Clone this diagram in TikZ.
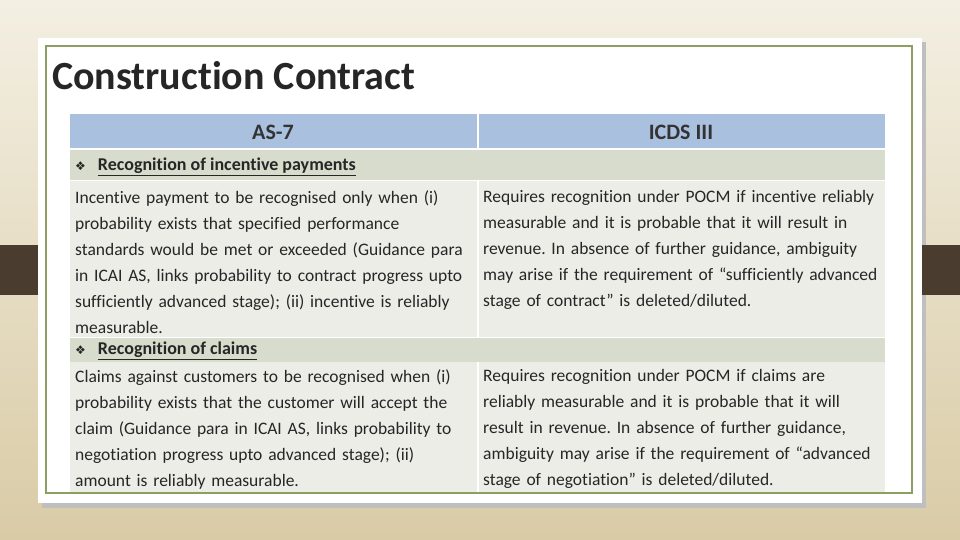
\documentclass[tikz,border=0pt]{standalone}
\usepackage{fontspec}
\setmainfont[Ligatures=NoCommon]{Carlito}
\newfontfamily\symfont{DejaVu Sans}
\frenchspacing
\definecolor{bgtop}{HTML}{F3EFE2}
\definecolor{bgbot}{HTML}{D9CBA6}
\definecolor{hdr}{HTML}{A9C1DF}
\definecolor{sec}{HTML}{D8DCCC}
\definecolor{cellc}{HTML}{ECEDE6}
\definecolor{brd}{HTML}{8E9E62}
\definecolor{brn}{HTML}{4A3C2E}
\tikzset{
  body/.style={anchor=north west, inner sep=0pt, align=left, text width=#1, font=\fontsize{17.5}{26}\selectfont, text=black!85},
  sechead/.style={anchor=west, inner sep=0pt, font=\fontsize{18}{20}\selectfont, text=black!85},
  colhead/.style={font=\bfseries\fontsize{22}{24}\selectfont, text=black!80}
}
\newcommand{\bul}{{\symfont\fontsize{12}{12}\selectfont ❖}\hspace{12pt}}
\begin{document}
\begin{tikzpicture}[x=1pt,y=-1pt]
\useasboundingbox (0,0) rectangle (960,540);
\shade[top color=bgtop, bottom color=bgbot] (0,0) rectangle (960,540);
\fill[black!25] (42,42) rectangle (926,508);
\fill[brn] (0,245) rectangle (38,295);
\fill[brn] (902,245) rectangle (960,295);
\fill[white] (38,38) rectangle (922,503);
\draw[brd, line width=1.2pt] (46,46) rectangle (912,493);
\node[anchor=west, inner sep=0pt, font=\bfseries\fontsize{40}{44}\selectfont, text=black!85] (title) at (52,76) {Construction Contract};
% table
\fill[hdr] (70,114) rectangle (477,148);
\fill[hdr] (479,114) rectangle (885,148);
\fill[sec] (70,150) rectangle (885,180);
\fill[cellc] (70,181) rectangle (477,337);
\fill[cellc] (479,181) rectangle (885,337);
\fill[sec] (70,338) rectangle (885,362);
\fill[cellc] (70,362) rectangle (477,492);
\fill[cellc] (479,362) rectangle (885,492);
\node[colhead] (h1) at (273,132) {AS-7};
\node[colhead] (h2) at (681,132) {ICDS III};
\node[sechead] (s1) at (75,167) {\bul\underline{\textbf{Recognition of incentive payments}}};
\node[sechead] (s2) at (75,351) {\bul\underline{\textbf{Recognition of claims}}};
\node[body=405pt] (c1) at (75,190) {Incentive payment to be recognised only when (i)\\probability exists that specified performance\\standards would be met or exceeded (Guidance para\\in ICAI AS, links probability to contract progress upto\\sufficiently advanced stage); (ii) incentive is reliably\\measurable.};
\node[body=400pt] (c2) at (483,190) {Requires recognition under POCM if incentive reliably\\measurable and it is probable that it will result in\\revenue. In absence of further guidance, ambiguity\\may arise if the requirement of “sufficiently advanced\\stage of contract” is deleted/diluted.};
\node[body=405pt] (c3) at (75,369) {Claims against customers to be recognised when (i)\\probability exists that the customer will accept the\\claim (Guidance para in ICAI AS, links probability to\\negotiation progress upto advanced stage); (ii)\\amount is reliably measurable.};
\node[body=400pt] (c4) at (483,369) {Requires recognition under POCM if claims are\\reliably measurable and it is probable that it will\\result in revenue. In absence of further guidance,\\ambiguity may arise if the requirement of “advanced\\stage of negotiation” is deleted/diluted.};
\end{tikzpicture}
\end{document}
